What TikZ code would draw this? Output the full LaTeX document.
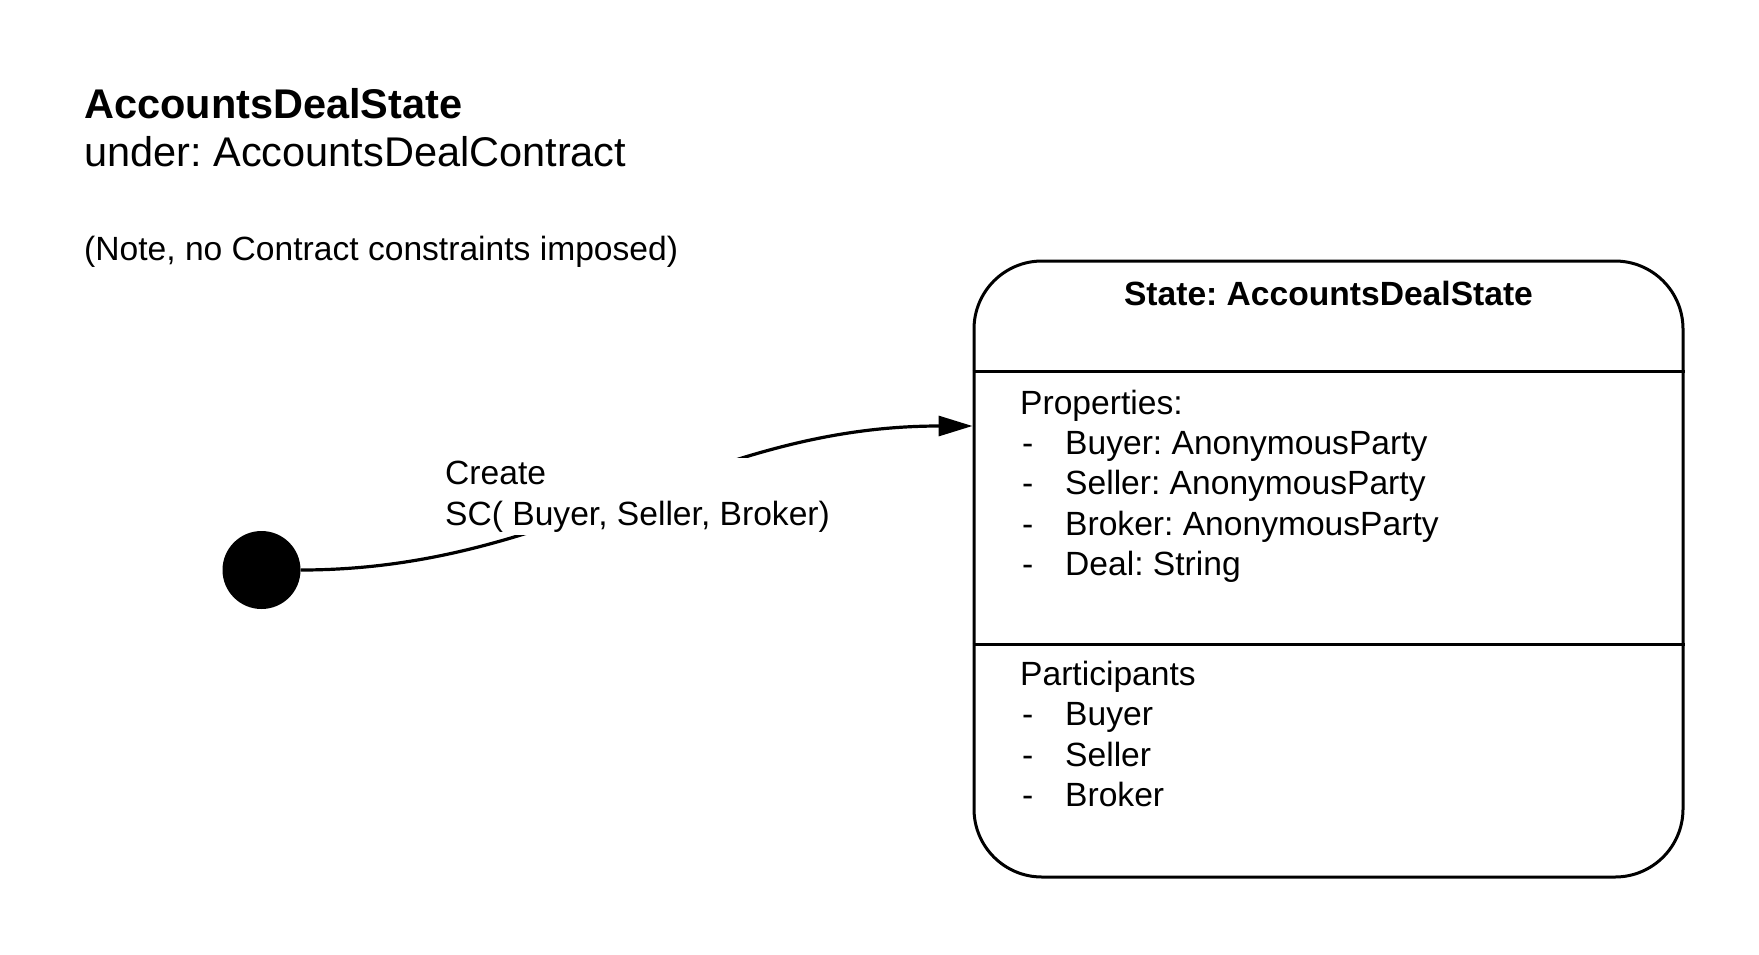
\documentclass[tikz,border=0pt]{standalone}
\usepackage{fontspec}
\setmainfont{Liberation Sans}
\frenchspacing
\usetikzlibrary{arrows.meta}
\tikzset{
  big/.style={font=\fontsize{41.5}{48}\selectfont, inner sep=0, anchor=base west},
  body/.style={font=\fontsize{33.6}{40.4}\selectfont, inner sep=0, anchor=base west},
  statebox/.style={draw, line width=3, rounded corners=68, minimum width=709, minimum height=616, inner sep=0},
  initstate/.style={circle, fill=black, minimum size=78, inner sep=0},
  trans/.style={line width=3.2, -{Triangle[length=34,width=20]}},
  lbl/.style={font=\fontsize{33.6}{40.4}\selectfont, fill=white, align=left, inner xsep=4, inner ysep=3, anchor=north west},
  divider/.style={line width=3}
}
\begin{document}
\begin{tikzpicture}[x=1pt,y=-1pt]
\useasboundingbox (0,0) rectangle (1759,954);
% header texts
\node[big, font=\fontsize{41.5}{48}\selectfont\bfseries] (title) at (84,118) {AccountsDealState};
\node[big] (under) at (84,166) {under: AccountsDealContract};
\node[body] (note) at (84,260) {(Note, no Contract constraints imposed)};
% state box
\node[statebox] (state) at (1328.5,569) {};
\draw[divider] (state.west |- 0,371) -- (state.east |- 0,371);
\draw[divider] (state.west |- 0,644) -- (state.east |- 0,644);
\node[body, font=\fontsize{33.6}{40.4}\selectfont\bfseries, anchor=base] (sname) at (1328.5,305) {State: AccountsDealState};
\node[body] (props) at (1020,414) {Properties:};
\foreach \t [count=\i] in {Buyer: AnonymousParty, Seller: AnonymousParty, Broker: AnonymousParty, Deal: String}{
  \node[body] (pd\i) at (1022,414+40.4*\i) {-};
  \node[body] (pt\i) at (1065,414+40.4*\i) {\t};
}
\node[body] (parts) at (1020,685) {Participants};
\foreach \t [count=\i] in {Buyer, Seller, Broker}{
  \node[body] (qd\i) at (1022,685+40.6*\i) {-};
  \node[body] (qt\i) at (1065,685+40.6*\i) {\t};
}
% initial state and transition
\node[initstate] (init) at (261.5,570) {};
\path (state.west) ++(0,-143) coordinate (tip);
\draw[trans] (init.east) .. controls (560,570) and (700,426) .. (tip);
\node[lbl] (create) at (441,458) {Create\\SC( Buyer, Seller, Broker)};
\end{tikzpicture}
\end{document}
